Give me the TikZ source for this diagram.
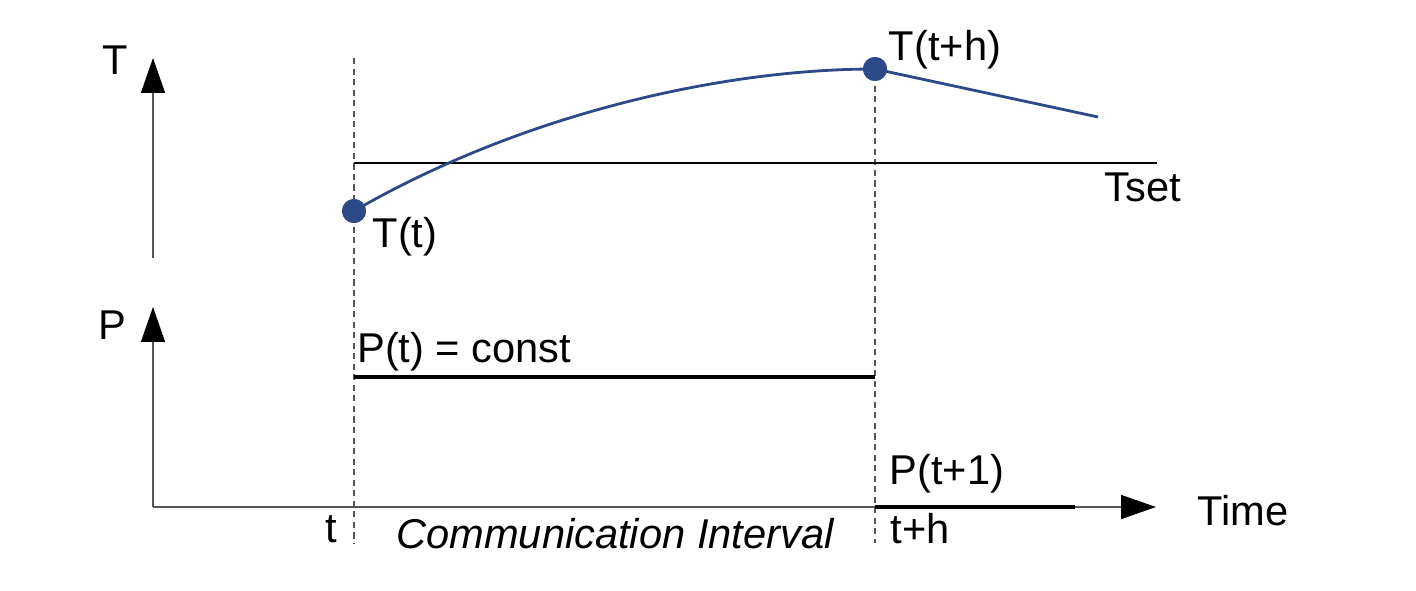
\documentclass[tikz,border=0pt]{standalone}
\usepackage{fontspec}
\setmainfont{Liberation Sans}
\usetikzlibrary{arrows.meta}
\definecolor{curveblue}{HTML}{2B4A87}
\definecolor{axisgray}{HTML}{555555}
\begin{document}
\begin{tikzpicture}[x=0.02cm,y=-0.02cm,
  lbl/.style={inner sep=0pt, font=\fontsize{23.7}{28}\selectfont},
  axis/.style={draw=axisgray, line width=0.8pt, -{Triangle[length=0.7cm,width=0.48cm,color=black]}},
  guide/.style={draw=axisgray, line width=0.7pt, dash pattern=on 3.5pt off 2.5pt},
  level/.style={draw=black, line width=1.2pt},
  power/.style={draw=black, line width=1.8pt},
  temp/.style={draw=curveblue, line width=1.6pt},
  dot/.style={circle, fill=curveblue, minimum size=0.48cm, inner sep=0pt}]
\useasboundingbox (0,0) rectangle (1416,591);
% axes
\coordinate (Tbot) at (153,258);
\coordinate (Ttop) at (153,58);
\coordinate (O) at (153,507);
\coordinate (Ptop) at (153,307);
\coordinate (Xend) at (1156,507);
\draw[axis] (Tbot) -- (Ttop);
\draw[axis] (O) -- (Ptop);
\draw[axis] (O) -- (Xend);
\node[lbl] (Tlab) at (115,60) {T};
\node[lbl] (Plab) at (112,325) {P};
\node[lbl] (Timelab) at (1243,511) {Time};
% dashed guides
\coordinate (g1top) at (354,58);
\coordinate (g1bot) at (354,543);
\coordinate (g2top) at (875,75);
\coordinate (g2bot) at (875,543);
\draw[guide] (g1top) -- (g1bot);
\draw[guide] (g2top) -- (g2bot);
% Tset
\coordinate (s1) at (354,163);
\coordinate (s2) at (1157,163);
\draw[level] (s1) -- (s2);
\node[lbl] (Tset) at (1143,187) {Tset};
% temperature curve
\node[dot] (d1) at (354,211) {};
\node[dot] (d2) at (875,69) {};
\coordinate (tend) at (1098,117);
\draw[temp] (d1.center) .. controls (520,115) and (720,69) .. (d2.center) -- (tend);
\node[dot] at (d1) {};
\node[dot] at (d2) {};
\node[lbl] (Tt) at (405,237) {T(t)};
\node[lbl] (Tth) at (945,50) {T(t+h)};
% power
\coordinate (p1) at (354,377);
\coordinate (p2) at (875,377);
\draw[power] (p1) -- (p2);
\node[lbl, anchor=west] (Pconst) at (357,352) {P(t) = const};
\coordinate (q1) at (875,507);
\coordinate (q2) at (1075,507);
\draw[power] (q1) -- (q2);
\node[lbl] (Pt1) at (947,474) {P(t+1)};
% time labels
\node[lbl] (tlab) at (331,529) {t};
\node[lbl] (thlab) at (920,529) {t+h};
\node[lbl, font=\fontsize{23.7}{28}\selectfont\itshape] (CI) at (615,534) {Communication Interval};
\end{tikzpicture}
\end{document}
